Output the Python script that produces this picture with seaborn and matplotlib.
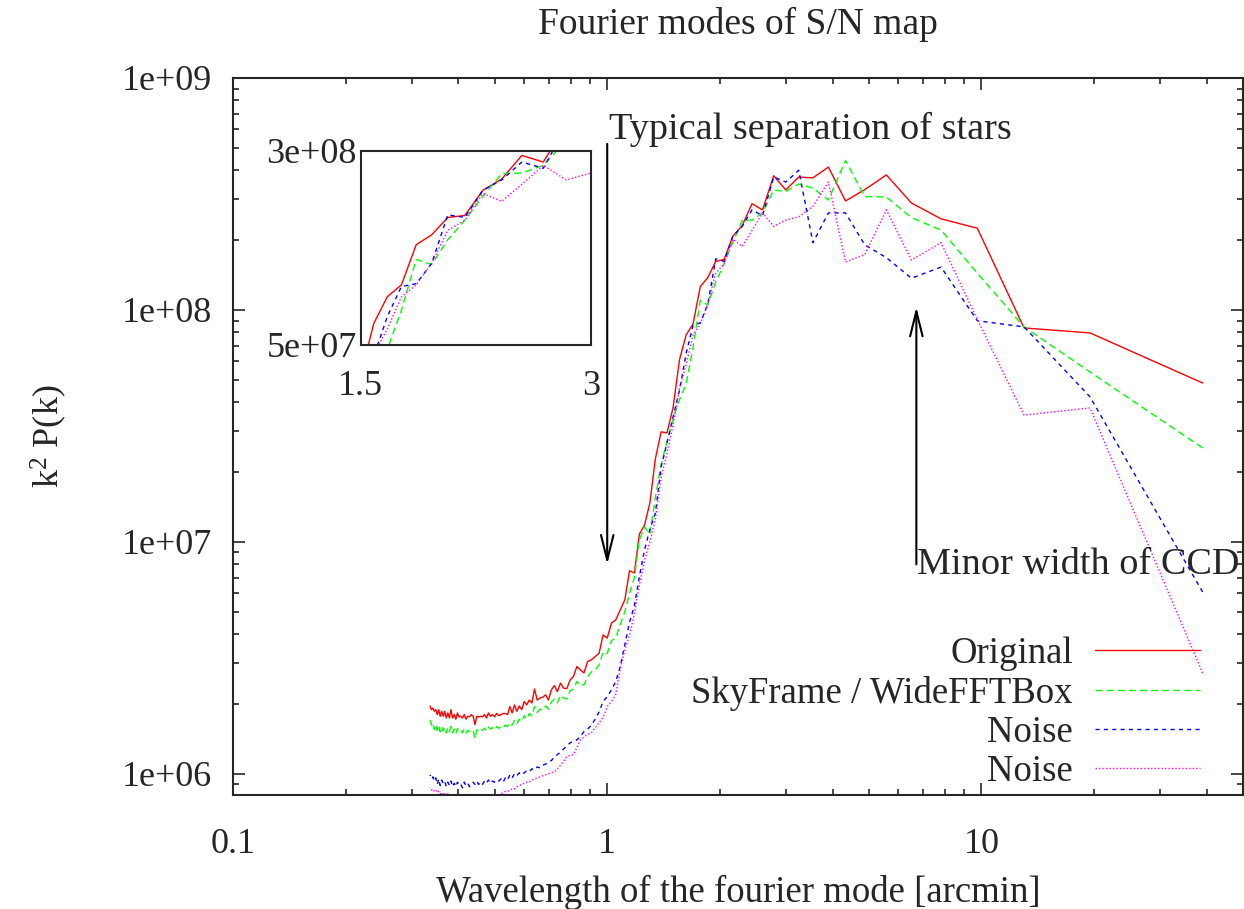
import numpy as np
import pandas as pd
import matplotlib
matplotlib.use("Agg")
import matplotlib.pyplot as plt
import seaborn as sns
from matplotlib.ticker import FixedLocator, FuncFormatter, LogLocator, NullFormatter, NullLocator

# fourier mode index, the wavelength is box size / mode
mode = np.arange(1, 117)
box_size = 39.0  # arcmin
wavelength = box_size / mode

# k^2 P(k) in units of 1e6 (mode 1 .. 116)
original = [
    48.4, 79.6, 83.6, 225, 247, 289, 382, 330, 295, 413,
    371, 374, 329, 379, 270, 287, 231, 208, 165, 162,
    138, 126, 87, 78, 61, 38, 29.5, 29.8, 22.8, 14.7,
    11.8, 10.8, 7.35, 7.5, 5.62, 5.09, 4.61, 4.46, 3.85, 3.97,
    3.31, 3.20, 3.10, 3.05, 2.72, 2.81, 2.90, 2.63, 2.54, 2.33,
    2.34, 2.46, 2.26, 2.40, 2.30, 2.08, 2.19, 2.14, 2.12, 2.08,
    2.32, 2.02, 2.08, 1.98, 2.05, 1.89, 1.96, 1.86, 1.98, 1.83,
    1.95, 1.80, 1.82, 1.82, 1.80, 1.78, 1.82, 1.76, 1.80, 1.77,
    1.83, 1.74, 1.80, 1.76, 1.77, 1.76, 1.77, 1.63, 1.77, 1.80,
    1.76, 1.77, 1.72, 1.80, 1.74, 1.77, 1.76, 1.83, 1.72, 1.80,
    1.74, 1.89, 1.74, 1.83, 1.74, 1.86, 1.77, 1.86, 1.77, 1.89,
    1.80, 1.89, 1.86, 1.92, 1.89, 1.96,
]
skyframe = [
    25.4, 54, 84.5, 144, 221, 250, 307, 308, 441, 298,
    335, 349, 324, 329, 262, 244, 243, 196, 158, 132,
    105, 110, 69, 48, 41, 34, 27, 21.5, 15.6, 10.8,
    11.6, 10.2, 7.0, 6.0, 5.0, 4.4, 3.85, 3.75, 3.30, 3.35,
    2.95, 2.80, 2.75, 2.62, 2.42, 2.40, 2.50, 2.32, 2.28, 2.10,
    2.12, 2.18, 2.02, 2.10, 2.04, 1.90, 1.96, 1.88, 1.90, 1.84,
    1.95, 1.78, 1.82, 1.72, 1.78, 1.68, 1.72, 1.64, 1.70, 1.62,
    1.66, 1.60, 1.62, 1.58, 1.60, 1.57, 1.60, 1.55, 1.58, 1.56,
    1.59, 1.53, 1.57, 1.54, 1.56, 1.53, 1.55, 1.42, 1.53, 1.55,
    1.52, 1.54, 1.50, 1.56, 1.50, 1.54, 1.52, 1.57, 1.49, 1.56,
    1.50, 1.60, 1.52, 1.58, 1.50, 1.58, 1.53, 1.60, 1.52, 1.62,
    1.54, 1.63, 1.55, 1.66, 1.62, 1.71,
]
noise_a = [
    6.08, 42.2, 84.5, 89.8, 153, 137, 168, 191, 262, 262,
    195, 400, 356, 374, 255, 270, 229, 208, 162, 166,
    106, 88, 85.7, 65, 45, 34.6, 26.7, 21, 13.3, 11.3,
    9.25, 7.07, 5.3, 4.5, 3.6, 2.9, 2.5, 2.3, 2.15, 2.05,
    1.85, 1.72, 1.62, 1.56, 1.52, 1.45, 1.40, 1.38, 1.36, 1.32,
    1.28, 1.24, 1.21, 1.18, 1.14, 1.12, 1.10, 1.09, 1.06, 1.07,
    1.04, 1.05, 1.02, 1.03, 1.01, 0.99, 1.01, 0.98, 1.00, 0.96,
    0.99, 0.94, 0.96, 0.92, 0.95, 0.93, 0.94, 0.92, 0.93, 0.91,
    0.94, 0.91, 0.93, 0.90, 0.92, 0.90, 0.93, 0.90, 0.92, 0.90,
    0.88, 0.91, 0.89, 0.92, 0.87, 0.90, 0.89, 0.92, 0.88, 0.91,
    0.88, 0.93, 0.89, 0.92, 0.88, 0.93, 0.91, 0.94, 0.89, 0.95,
    0.90, 0.96, 0.93, 0.97, 0.95, 0.99,
]
noise_b = [
    2.72, 37.8, 35.2, 91, 195, 164, 270, 173, 161, 356,
    280, 252, 244, 229, 262, 220, 188, 202, 158, 144,
    106, 87, 78, 58, 46, 32, 24, 19, 12.5, 10,
    8.3, 6.5, 4.9, 3.95, 3.42, 2.85, 2.20, 2.05, 1.95, 1.75,
    1.66, 1.58, 1.50, 1.48, 1.44, 1.40, 1.30, 1.21, 1.20, 1.19,
    1.13, 1.09, 1.05, 1.02, 1.01, 1.00, 0.99, 0.98, 0.97, 0.96,
    0.95, 0.94, 0.92, 0.92, 0.91, 0.90, 0.89, 0.88, 0.86, 0.86,
    0.85, 0.84, 0.84, 0.83, 0.82, 0.81, 0.80, 0.81, 0.79, 0.80,
    0.78, 0.80, 0.79, 0.80, 0.78, 0.79, 0.80, 0.77, 0.80, 0.79,
    0.80, 0.78, 0.80, 0.79, 0.80, 0.78, 0.80, 0.81, 0.79, 0.80,
    0.79, 0.81, 0.80, 0.82, 0.81, 0.82, 0.81, 0.83, 0.82, 0.84,
    0.83, 0.85, 0.84, 0.86, 0.85, 0.87,
]

labels = ["Original", "SkyFrame / WideFFTBox", "Noise", "Noise"]
colors = ["#ff0000", "#00ff00", "#0000ff", "#ff00ff"]
styles = ["-", (0, (5, 3)), (0, (3, 3)), (0, (1, 1.5))]

df = pd.DataFrame({
    "wavelength": wavelength,
    "original": np.array(original) * 1e6,
    "skyframe": np.array(skyframe) * 1e6,
    "noise_a": np.array(noise_a) * 1e6,
    "noise_b": np.array(noise_b) * 1e6,
})
series = ["original", "skyframe", "noise_a", "noise_b"]

sns.set_style("ticks")
plt.rcParams["font.family"] = ["Liberation Serif", "DejaVu Serif"]
plt.rcParams["mathtext.default"] = "regular"
fs = 26

fig = plt.figure(figsize=(12.44, 9.09), dpi=100)
ax = fig.add_axes([0.1873, 0.1254, 0.8119, 0.7888])

for col, lab, c, ls in zip(series, labels, colors, styles):
    sns.lineplot(data=df, x="wavelength", y=col, ax=ax, color=c, linestyle=ls,
                 linewidth=1.0, label=lab, estimator=None, sort=False)

ax.set(xscale="log", yscale="log")
ax.set_xlim(0.1, 50)
ax.set_ylim(8.1e5, 1e9)
ax.xaxis.set_major_locator(FixedLocator([0.1, 1, 10]))
ax.xaxis.set_major_formatter(FuncFormatter(lambda v, p: f"{v:g}"))
ax.yaxis.set_major_locator(FixedLocator([1e6, 1e7, 1e8, 1e9]))
ax.yaxis.set_major_formatter(FuncFormatter(lambda v, p: f"{v:.0e}"))
for axis in (ax.xaxis, ax.yaxis):
    axis.set_minor_locator(LogLocator(base=10, subs=np.arange(2, 10), numticks=20))
    axis.set_minor_formatter(NullFormatter())
ax.tick_params(which="both", direction="in", top=True, right=True, width=1.2, labelsize=fs)
ax.tick_params(which="major", length=8.6)
ax.tick_params(which="minor", length=4.3)
ax.tick_params(axis="x", pad=24)
ax.tick_params(axis="y", pad=15)
for sp in ax.spines.values():
    sp.set_linewidth(1.5)

ax.set_xlabel("Wavelength of the fourier mode [arcmin]", fontsize=26.5, labelpad=10)
ax.set_ylabel("k$^{2}$ P(k)", fontsize=fs, labelpad=38)
ax.set_title("Fourier modes of S/N map", fontsize=27, pad=32)

# arrows with labels
head = "->,head_length=1.8,head_width=0.45"
ax.annotate("", xy=(1, 8e6), xytext=(1, 5.2e8),
            arrowprops=dict(arrowstyle=head, lw=1.5, color="black", shrinkA=0, shrinkB=0))
ax.text(1.01, 6e8, "Typical separation of stars", fontsize=27.5, ha="left", va="center")
ax.annotate("", xy=(6.7, 1.03e8), xytext=(6.7, 8e6),
            arrowprops=dict(arrowstyle=head, lw=1.5, color="black", shrinkA=0, shrinkB=0))
ax.text(6.72, 8e6, "Minor width of CCD", fontsize=27.5, ha="left", va="center")

ax.legend(loc="lower right", bbox_to_anchor=(0.9574, 0.008), frameon=False,
          markerfirst=False, fontsize=26.5, handlelength=2.85, handletextpad=0.6,
          labelspacing=0.13, borderaxespad=0, borderpad=0)

# zoomed inset around the rise
ax_in = fig.add_axes([0.2900, 0.6205, 0.1849, 0.2138])
for col, c, ls in zip(series, colors, styles):
    sns.lineplot(data=df, x="wavelength", y=col, ax=ax_in, color=c, linestyle=ls,
                 linewidth=1.0, legend=False, estimator=None, sort=False)
ax_in.set(xscale="log", yscale="log")
ax_in.set_xlim(1.5, 3)
ax_in.set_ylim(5e7, 3e8)
ax_in.xaxis.set_major_locator(FixedLocator([1.5, 3]))
ax_in.xaxis.set_major_formatter(FuncFormatter(lambda v, p: f"{v:g}"))
ax_in.yaxis.set_major_locator(FixedLocator([5e7, 3e8]))
ax_in.yaxis.set_major_formatter(FuncFormatter(lambda v, p: f"{v:.0e}"))
ax_in.xaxis.set_minor_locator(NullLocator())
ax_in.yaxis.set_minor_locator(NullLocator())
ax_in.tick_params(which="both", length=0, labelsize=fs)
ax_in.tick_params(axis="x", pad=18)
ax_in.tick_params(axis="y", pad=3)
ax_in.set_xlabel("")
ax_in.set_ylabel("")
for sp in ax_in.spines.values():
    sp.set_linewidth(1.5)

fig.savefig("out.png", dpi=100)
